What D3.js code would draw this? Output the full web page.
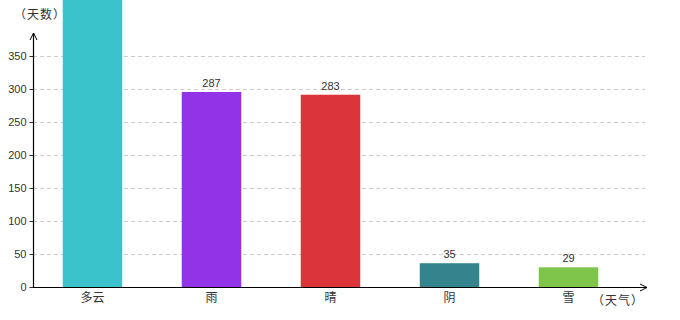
<!DOCTYPE html>
<html><head><meta charset="utf-8">
<script src="https://cdn.jsdelivr.net/npm/d3@7"></script>
<style>body{margin:0;background:#fff;}svg{display:block;font-family:"Noto Sans CJK SC","DejaVu Sans",sans-serif;}</style>
</head><body>
<svg id="c" width="680" height="320"></svg>
<script>
const categories = ["多云", "雨", "晴", "阴", "雪"];
const values = [450, 287, 283, 35, 29];
const colors = ["#3bc3cc", "#9333e8", "#dc343b", "#33848c", "#7ec54a"];
const yTicks = [0, 50, 100, 150, 200, 250, 300, 350];

const svg = d3.select("#c");
const x0 = 33, y0 = 287;
const x = d3.scaleBand().domain(categories).range([x0, 628]).paddingInner(0.5).paddingOuter(0.25);
const y = d3.scaleLinear().domain([0, 350]).range([y0, 56]);
const yBar = d3.scaleLinear().domain([0, 340]).range([y0, 56]);

// grid
svg.append("g").selectAll("line").data(yTicks.filter(d => d > 0)).join("line")
  .attr("x1", x0).attr("x2", 645).attr("y1", d => y(d) + 0.5).attr("y2", d => y(d) + 0.5)
  .attr("stroke", "#ccc").attr("stroke-dasharray", "4,3");

// bars
svg.append("g").selectAll("rect").data(values).join("rect")
  .attr("x", (d, i) => x(categories[i]))
  .attr("width", x.bandwidth())
  .attr("y", d => yBar(d))
  .attr("height", d => y0 - yBar(d))
  .attr("fill", (d, i) => colors[i]);

// value labels (only those that fall inside the drawing area)
const labelData = values.map((v, i) => ({v, c: categories[i]})).filter(d => yBar(d.v) - 5 > 12);
svg.append("g").selectAll("text").data(labelData).join("text")
  .attr("x", d => x(d.c) + x.bandwidth() / 2)
  .attr("y", d => yBar(d.v) - 5)
  .attr("text-anchor", "middle").attr("font-size", 11).attr("fill", "#333")
  .attr("font-family", "Liberation Sans, Arial, sans-serif")
  .text(d => d.v);

// y axis
const yAxis = d3.axisLeft(y).tickValues(yTicks).tickSize(4).tickPadding(3);
const gy = svg.append("g").attr("transform", `translate(${x0 + 0.5},0)`).call(yAxis);
gy.select(".domain").remove();
gy.selectAll("line").attr("stroke", "#333");
gy.selectAll("text").attr("font-size", 11).attr("fill", "#333").attr("font-family", "Liberation Sans, Arial, sans-serif");

svg.append("line").attr("x1", x0 + 0.5).attr("x2", x0 + 0.5).attr("y1", y0 + 1).attr("y2", 33).attr("stroke", "#000").attr("stroke-width", 1.2);
svg.append("path").attr("d", `M${x0 + 0.5 - 3.5},${40} L${x0 + 0.5},${33} L${x0 + 0.5 + 3.5},${40}`).attr("fill", "none").attr("stroke", "#000");

// x axis
svg.append("line").attr("x1", x0).attr("x2", 647).attr("y1", y0 + 0.5).attr("y2", y0 + 0.5).attr("stroke", "#000").attr("stroke-width", 1.2);
svg.append("path").attr("d", `M640,${y0 + 0.5 - 3.5} L647,${y0 + 0.5} L640,${y0 + 0.5 + 3.5}`).attr("fill", "none").attr("stroke", "#000");

const xAxis = d3.axisBottom(x).tickSize(0).tickPadding(6);
const gx = svg.append("g").attr("transform", `translate(0,${y0})`).call(xAxis);
gx.select(".domain").remove();
gx.selectAll("text").attr("font-size", 12).attr("fill", "#333").attr("font-family", "Noto Sans CJK SC, sans-serif");

svg.append("text").attr("x", 14).attr("y", 19).attr("font-size", 12).attr("fill", "#333").attr("letter-spacing", 1).text("（天数）");
svg.append("text").attr("x", 592).attr("y", 305).attr("font-size", 12).attr("fill", "#333").attr("letter-spacing", 1).text("（天气）");
</script>
</body></html>
